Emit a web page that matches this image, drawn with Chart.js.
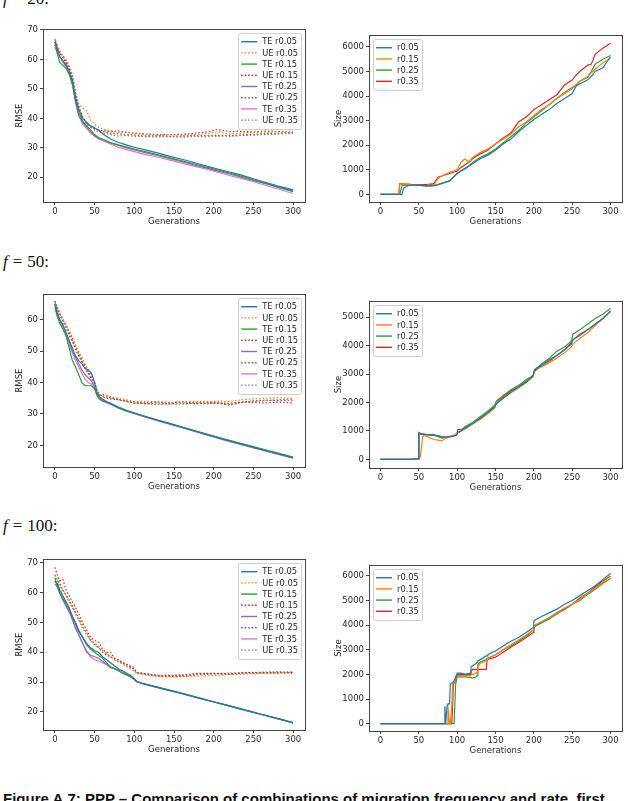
<!DOCTYPE html>
<html>
<head>
<meta charset="utf-8">
<script src="https://cdn.jsdelivr.net/npm/chart.js@4.4.0/dist/chart.umd.min.js"></script>
<style>
  body { margin: 0; width: 628px; height: 801px; overflow: hidden; background: #fff; position: relative; }
  canvas { position: absolute; }
  .lbl { position: absolute; left: 3px; font: 17px "Liberation Serif", serif; line-height: 17px; white-space: nowrap; color: #111; }
  .eq { margin: 0 5px; }
  .cap { position: absolute; left: 3px; top: 791px; font: 15px "Liberation Sans", Arial, sans-serif; line-height: 15px; white-space: nowrap; color: #111; }
</style>
</head>
<body>
<div class="lbl" style="top:-10px"><i>f</i><span class="eq">=</span>20:</div>
<div class="lbl" style="top:253px"><i>f</i><span class="eq">=</span>50:</div>
<div class="lbl" style="top:517px"><i>f</i><span class="eq">=</span>100:</div>
<canvas id="c1"></canvas>
<canvas id="c2"></canvas>
<canvas id="c3"></canvas>
<canvas id="c4"></canvas>
<canvas id="c5"></canvas>
<canvas id="c6"></canvas>
<div class="cap"><b>Figure A.7: PPP – Comparison of combinations of migration frequency and rate, first</b></div>
<script>
// ---- data ----
const xTicks = [0, 50, 100, 150, 200, 250, 300];
const rmseLabels = ["TE r0.05", "UE r0.05", "TE r0.15", "UE r0.15", "TE r0.25", "UE r0.25", "TE r0.35", "UE r0.35"];
const sizeLabels = ["r0.05", "r0.15", "r0.25", "r0.35"];

// f = 20, RMSE
const gen20 = [0,3,6,10,14,18,22,26,30,35,40,45,50,55,60,70,80,90,100,115,130,145,160,175,190,205,220,235,250,265,280,300];
const te20_05 = [66,63,61,59.5,58,56,53,47,43,40,38.5,37.5,36.8,36,34.8,33,31.8,31,30.2,29.2,28.2,27.1,26.1,25,23.9,22.8,21.8,20.7,19.5,18.3,17.1,15.7];
const ue20_05 = [64,65,63,61,60,58,55,49,45,43.5,42.5,39.5,38,37,36.3,35.8,35.2,35.5,34.8,34.5,34.2,34.6,34.3,34.5,34.8,35.4,34.7,35,35.3,35.1,35.5,35.2];
const te20_15 = [65,62,59,58,57,55,51.5,46,42,39,37.5,36,34.5,33.5,33,31.8,31,30.3,29.6,28.6,27.6,26.6,25.6,24.6,23.5,22.5,21.4,20.3,19.1,18,16.8,15.3];
const ue20_15 = [66,64,62,61.5,59,57,54,48,44,40.5,38.5,37.5,36.5,36,35.8,35.5,35.7,35.2,35,34.7,34.5,34.4,34.6,34.9,35.3,36.2,35.5,35.6,35.4,35.7,35.6,35.2];
const te20_25 = [67,64,61,59.5,58.5,56,52,46,41,38.5,37,35.5,34,33.2,32.8,31.6,30.8,30,29.3,28.3,27.3,26.3,25.3,24.2,23.2,22.1,21.1,20,18.9,17.8,16.6,15.1];
const ue20_25 = [65,63.5,62,60.5,59,57,54.5,48,43,40,38,37,36.5,35.8,35.5,35,34.8,34.5,34.3,34,34.1,33.9,34,34.2,34.1,34.3,34.1,34.4,34.6,34.8,35,35.3];
const te20_35 = [64,63,61,59,57.5,55.5,52,45,41,38,36.5,35,34,33,32.5,31.3,30.2,29.4,28.7,27.7,26.8,25.8,24.8,23.8,22.8,21.7,20.6,19.6,18.5,17.3,16.1,14.5];
const ue20_35 = [66,64.5,62.5,61,59.5,57.5,54,48.5,44,40,38.5,37,36,35.5,35,34.5,34,34.2,33.9,33.8,33.7,33.8,33.6,33.9,33.7,34,33.9,34.2,34.3,34.5,34.6,34.9];

// f = 50, RMSE
const gen50 = [0,3,6,10,14,18,22,26,30,34,38,42,46,50,53,56,60,65,70,80,90,100,115,130,145,160,175,190,205,220,235,250,265,280,300];
const te50_05 = [65,62,60,58.5,56,53.5,51,48.5,47,46,44.5,44,43,40,37,35.5,34.8,34,33.4,32.2,31.2,30.3,29.1,28,26.9,25.8,24.7,23.6,22.5,21.4,20.4,19.4,18.4,17.4,16.1];
const ue50_05 = [65,64,62,60,58,56.5,54.5,52,50,48,46,44,42,40,37.5,36,35.8,36,35.5,35,34.5,34,34,33.9,33.7,33.8,34,34,34.1,34,34.5,34.8,35,35.2,35];
const te50_15 = [64,61,59,57,55,51,47,45,42.5,40,39,39,39,38,36,35,34.3,33.8,33.3,32,31,30.3,29.1,28,26.9,25.8,24.7,23.7,22.6,21.6,20.6,19.6,18.6,17.6,16.3];
const ue50_15 = [65,63,61.5,59.5,57.5,55,53,50.5,48.5,46.5,44.5,43,41,39.5,37,36,36.2,35.8,35.2,34.6,34.2,33.8,33.5,33.8,33.5,33.9,33.6,33.8,33.5,33.4,33.8,33.6,33.5,33.8,33.5];
const te50_25 = [66,62.5,60,58,55.5,53,50,48,46,44,42.5,41.5,40.5,38.5,36.5,35,34.2,33.7,33.2,31.9,31,30.2,29,27.9,26.8,25.7,24.6,23.5,22.4,21.3,20.3,19.3,18.3,17.3,16];
const ue50_25 = [66,64,62,60,58.5,56,53.5,51,49,47,45,43.5,42,40,37.5,36.5,35.5,35,34.8,34.5,34,33.5,33.3,33.5,33.2,33.5,33.3,33.4,33.6,33,33.8,34.2,34.4,34.3,34.4];
const te50_35 = [65,62,60,58,55,52,49.5,47,45,43,41,40,39.5,38,36,34.7,34,33.6,33.1,31.8,30.9,30.1,28.9,27.8,26.7,25.6,24.5,23.4,22.3,21.2,20.2,19.2,18.2,17.2,15.9];
const ue50_35 = [65,64,62,60.5,58,56,54,51.5,49.5,47.5,45.5,43.5,41.5,40,37.5,36,35.7,35.4,35,34.6,34,33.4,33.2,33,33.2,33.1,33.4,33.2,33.4,32.8,33.6,34,34.2,34.5,34.8];

// f = 100, RMSE
const gen100 = [0,3,6,10,14,18,22,26,30,35,40,45,50,55,60,65,70,75,80,85,90,95,99,103,110,120,135,150,165,180,200,220,240,260,280,300];
const te100_05 = [64,63,61,59,57,55,52,49.5,47,45,43,41.5,40.5,40,38.5,37.5,36.5,35.5,34.5,33.8,33,32.3,31.5,30.2,29.6,28.9,27.9,26.9,25.9,24.8,23.4,22,20.6,19.2,17.8,16.4];
const ue100_05 = [66,64,63,61,59,57,55,53,51,48.5,46.5,44.5,43,42,41,39.5,38.5,37.5,36.8,36,35.2,34.5,33.8,33,32.5,32.2,31.8,31.7,31.9,32,32.2,32.5,32.7,33,33.1,33.3];
const te100_15 = [65,62,60,58,56.5,54.5,52,50,47.5,45,42.5,41,40,39,38,36.5,35,34.5,33.8,33,32.5,32,31.2,30.2,29.6,28.9,27.9,26.9,25.8,24.8,23.4,22,20.6,19.2,17.8,16.4];
const ue100_15 = [68.5,66,64,64.5,61,59,57,55,53,50,47.5,45,44,43.5,41,40,40,38,37.5,36.5,36,35,34.5,33.2,33,32.5,32,32.2,32.3,32.8,33,32.6,33.2,33,33.2,33];
const te100_25 = [63,62,60,57.5,55.5,53.5,51,48,46,43,40,39,38.5,38,37,36,35,34.5,34,33.2,32.5,31.8,31,30.1,29.5,28.8,27.8,26.8,25.8,24.7,23.3,21.9,20.5,19.1,17.7,16.3];
const ue100_25 = [66,64.5,63,61,59.5,57.5,55.5,53.5,51.5,49,46.5,44,43,41.5,40,39,38.5,37.5,37,36.5,35.5,35,34.5,33,32.8,32.3,32,31.8,32,32.5,32.7,32.8,33,33.2,33,33.2];
const te100_35 = [64,63,60.5,58,56,54,51,48.5,46,43,40.5,38.5,37.5,37,36.5,35.8,35,34.5,33.8,33.2,32.5,31.8,31,30.1,29.5,28.8,27.8,26.8,25.8,24.7,23.3,21.9,20.5,19.1,17.7,16.3];
const ue100_35 = [65,64,62,60.5,59,57,55,53,51,48,46,44,42.5,41.5,40.5,39.5,38.5,38,37,36.5,36,35.5,35,33.2,33,32.5,32.3,32.3,32.5,33,32.8,33,33.2,33.3,33.5,33.4];

// f = 20, Size
const gen20s = [0,10,20,24,25,28,30,35,40,50,60,65,70,75,80,90,100,105,110,115,120,130,140,150,160,170,180,190,200,210,220,230,240,250,255,260,270,275,280,290,300];
const sz20_05 = [0,0,0,0,0,0,250,350,380,380,350,350,360,400,450,550,850,950,1050,1150,1250,1450,1600,1800,2050,2250,2550,2800,3050,3250,3450,3700,3900,4100,4400,4500,4650,4800,5000,5150,5600];
const sz20_15 = [0,0,0,0,420,420,430,420,400,380,350,450,400,650,750,900,1000,1300,1450,1300,1500,1700,1850,2050,2250,2450,2750,2950,3200,3450,3650,3900,4100,4300,4450,4600,4800,4950,5100,5350,5550];
const sz20_25 = [0,0,0,0,0,350,380,380,380,370,350,350,360,400,450,550,850,950,1050,1150,1300,1500,1650,1850,2100,2350,2600,2900,3150,3400,3650,3900,4150,4350,4450,4600,4750,5000,5300,5500,5650];
const sz20_35 = [0,0,0,0,430,430,420,420,410,400,400,400,450,700,750,850,950,1100,1200,1300,1450,1650,1800,2050,2300,2500,2950,3150,3450,3650,3850,4050,4450,4650,4850,5000,5250,5300,5700,5950,6150];

// f = 50, Size
const gen50s = [0,10,20,30,40,49,50,52,55,57,60,65,70,75,80,85,90,95,99,101,105,110,120,130,140,149,151,160,170,180,190,199,201,210,220,230,240,249,251,260,270,280,290,300];
const sz50_05 = [0,0,0,0,0,20,900,900,880,880,870,860,850,840,800,780,800,820,850,950,1000,1100,1250,1450,1650,1850,1950,2150,2350,2550,2700,2950,3150,3300,3500,3650,3850,4050,4200,4350,4550,4750,4950,5200];
const sz50_15 = [0,0,0,0,0,20,50,100,800,850,820,750,700,680,650,750,780,850,900,950,1000,1050,1250,1400,1600,1800,2000,2150,2350,2500,2700,2900,3150,3250,3400,3550,3750,3950,4050,4250,4450,4700,4950,5200];
const sz50_25 = [0,0,0,0,0,20,850,900,900,880,860,850,840,800,750,770,800,830,860,950,1000,1150,1300,1500,1700,1900,2050,2250,2450,2600,2800,2950,3150,3350,3550,3800,3950,4150,4400,4550,4750,4950,5100,5300];
const sz50_35 = [0,0,0,0,0,20,950,920,900,890,880,870,860,830,780,790,800,830,860,1050,1050,1100,1250,1450,1650,1900,2000,2200,2400,2550,2750,2900,3100,3300,3450,3650,3850,4100,4200,4400,4550,4750,4950,5200];

// f = 100, Size
const gen100s = [0,20,40,60,80,83,84,85,87,88,90,91,93,94,95,96,97,98,100,105,110,117,118,120,125,126,127,130,138,139,140,150,160,170,180,190,199,200,201,210,220,230,240,250,260,270,280,290,300];
const sz100_05 = [0,0,0,0,0,0,700,0,750,800,800,1600,1650,1650,1700,1750,1750,1800,2050,2050,2000,2050,2300,2350,2450,2500,2550,2600,2750,2750,2800,2950,3150,3350,3500,3700,3900,4150,4200,4350,4500,4650,4850,5000,5200,5400,5600,5850,6100];
const sz100_15 = [0,0,0,0,0,0,0,0,0,700,0,0,700,1600,1650,1700,1750,1800,1950,1950,1950,1950,2000,2000,2050,2100,2300,2450,2550,2600,2650,2800,3000,3200,3400,3600,3800,3950,4000,4150,4300,4500,4700,4850,5050,5300,5500,5750,6000];
const sz100_25 = [0,0,0,0,0,0,0,0,0,0,0,0,0,0,0,0,0,1600,1900,1900,1900,1880,1870,1850,1900,1950,2400,2500,2600,2650,2650,2800,3000,3150,3350,3550,3800,3900,3950,4100,4250,4450,4650,4850,5000,5250,5450,5700,5900];
const sz100_35 = [0,0,0,0,0,0,0,0,0,0,0,0,0,700,1600,1650,1800,1900,2000,2000,2000,2000,2100,2200,2200,2200,2200,2200,2200,2600,2600,2700,2900,3100,3300,3500,3700,3900,3950,4100,4300,4500,4650,4850,5100,5300,5550,5800,6000];

const rmseTicks = [20, 30, 40, 50, 60, 70];
const rmseTicks50 = [20, 30, 40, 50, 60];
const sizeTicks = [0, 1000, 2000, 3000, 4000, 5000, 6000];
const sizeTicks50 = [0, 1000, 2000, 3000, 4000, 5000];

// ---- styling ----
const tab = ["#1f77b4", "#ff7f0e", "#2ca02c", "#d62728", "#9467bd", "#8c564b", "#e377c2", "#7f7f7f"];
const dotted = [1.5, 2];
const txt = "#2a2a2a";
const font = { family: "DejaVu Sans", size: 8.5 };

// box around the axes, like matplotlib spines
const framePlugin = {
    id: "frame",
    afterDatasetsDraw(chart) {
        const { ctx, chartArea: a } = chart;
        ctx.save();
        ctx.strokeStyle = "#444";
        ctx.lineWidth = 1;
        ctx.strokeRect(Math.round(a.left) + 0.5, Math.round(a.top) + 0.5, Math.round(a.right - a.left), Math.round(a.bottom - a.top));
        ctx.restore();
    }
};

// legend drawn inside the plot with a light rounded box
const boxLegend = {
    id: "boxLegend",
    afterDraw(chart, args, opts) {
        if (!opts || !opts.side) return;
        const { ctx, chartArea: a } = chart;
        const ds = chart.data.datasets;
        const pad = 3, handle = 16, gap = 5, rowH = 11.2;
        ctx.save();
        ctx.font = '8.3px "DejaVu Sans"';
        const textW = Math.max(...ds.map(d => ctx.measureText(d.label).width));
        const w = pad + handle + gap + textW + pad;
        const h = ds.length * rowH + 2 * pad;
        const x = opts.side === "right" ? a.right - 4 - w : a.left + 4;
        const y = a.top + 4;
        ctx.fillStyle = "rgba(255,255,255,0.8)";
        ctx.strokeStyle = "#d0d0d0";
        ctx.lineWidth = 1;
        ctx.beginPath();
        if (ctx.roundRect) ctx.roundRect(Math.round(x) + 0.5, Math.round(y) + 0.5, Math.round(w), Math.round(h), 2);
        else ctx.rect(Math.round(x) + 0.5, Math.round(y) + 0.5, Math.round(w), Math.round(h));
        ctx.fill();
        ctx.stroke();
        ds.forEach((d, i) => {
            const cy = y + pad + rowH * (i + 0.5);
            ctx.strokeStyle = d.borderColor;
            ctx.lineWidth = 1.4;
            ctx.setLineDash(d.borderDash || []);
            ctx.beginPath();
            ctx.moveTo(x + pad, cy);
            ctx.lineTo(x + pad + handle, cy);
            ctx.stroke();
            ctx.setLineDash([]);
            ctx.fillStyle = txt;
            ctx.textBaseline = "middle";
            ctx.fillText(d.label, x + pad + handle + gap, cy + 0.5);
        });
        ctx.restore();
    }
};
Chart.register(framePlugin, boxLegend);

function makeChart(id, frame, yW, gens, series, labels, colors, dashes, yMin, yMax, yTicks, yTitle, side) {
    const H = 28, padT = 6, padR = 6;
    const cv = document.getElementById(id);
    cv.width = frame.r - frame.l + yW + padR;
    cv.height = frame.b - frame.t + padT + H;
    cv.style.left = (frame.l - yW) + "px";
    cv.style.top = (frame.t - padT) + "px";

    const datasets = series.map((vals, i) => ({
        label: labels[i],
        data: vals.map((v, k) => ({ x: gens[k], y: v })),
        borderColor: colors[i],
        borderWidth: 1.2,
        borderDash: dashes[i],
        pointRadius: 0,
        tension: 0,
        fill: false
    }));

    const grid = { display: true, drawOnChartArea: false, drawTicks: true, tickLength: 3, color: "#444" };

    return new Chart(cv.getContext("2d"), {
        type: "line",
        data: { datasets: datasets },
        options: {
            responsive: false,
            animation: false,
            layout: { padding: { left: 0, right: padR, top: padT, bottom: 0 } },
            plugins: {
                legend: { display: false },
                tooltip: { enabled: false },
                boxLegend: { side: side }
            },
            scales: {
                x: {
                    type: "linear",
                    min: -15,
                    max: 315,
                    afterBuildTicks: s => { s.ticks = xTicks.map(v => ({ value: v })); },
                    afterFit: s => { s.height = H; },
                    grid: grid,
                    border: { display: false },
                    ticks: { font: font, color: txt, padding: 2, maxRotation: 0, autoSkip: false, callback: v => String(v) },
                    title: { display: true, text: "Generations", font: font, color: txt, padding: { top: 0, bottom: 3 } }
                },
                y: {
                    type: "linear",
                    min: yMin,
                    max: yMax,
                    afterBuildTicks: s => { s.ticks = yTicks.map(v => ({ value: v })); },
                    afterFit: s => { s.width = yW; },
                    grid: grid,
                    border: { display: false },
                    ticks: { font: font, color: txt, padding: 2, autoSkip: false, callback: v => String(v) },
                    title: { display: true, text: yTitle, font: font, color: txt, padding: { top: 15, bottom: 0 } }
                }
            }
        }
    });
}

const rmseColors = tab;
const rmseDashes = [[], dotted, [], dotted, [], dotted, [], dotted];
const sizeColors = tab.slice(0, 4);
const sizeDashes = [[], [], [], []];

makeChart("c1", { l: 43, t: 28, r: 305, b: 202 }, 43, gen20,
    [te20_05, ue20_05, te20_15, ue20_15, te20_25, ue20_25, te20_35, ue20_35],
    rmseLabels, rmseColors, rmseDashes, 11.6, 70.3, rmseTicks, "RMSE", "right");
makeChart("c2", { l: 369, t: 34, r: 622, b: 202 }, 50, gen20s,
    [sz20_05, sz20_15, sz20_25, sz20_35],
    sizeLabels, sizeColors, sizeDashes, -307, 6480, sizeTicks, "Size", "left");
makeChart("c3", { l: 43, t: 293, r: 305, b: 467 }, 43, gen50,
    [te50_05, ue50_05, te50_15, ue50_15, te50_25, ue50_25, te50_35, ue50_35],
    rmseLabels, rmseColors, rmseDashes, 13.1, 68.2, rmseTicks50, "RMSE", "right");
makeChart("c4", { l: 369, t: 300, r: 622, b: 468 }, 50, gen50s,
    [sz50_05, sz50_15, sz50_25, sz50_35],
    sizeLabels, sizeColors, sizeDashes, -300, 5560, sizeTicks50, "Size", "left");
makeChart("c5", { l: 43, t: 558, r: 305, b: 730 }, 43, gen100,
    [te100_05, ue100_05, te100_15, ue100_15, te100_25, ue100_25, te100_35, ue100_35],
    rmseLabels, rmseColors, rmseDashes, 13.9, 71.3, rmseTicks, "RMSE", "right");
makeChart("c6", { l: 369, t: 564, r: 622, b: 731 }, 50, gen100s,
    [sz100_05, sz100_15, sz100_25, sz100_35],
    sizeLabels, sizeColors, sizeDashes, -300, 6440, sizeTicks, "Size", "left");
</script>
</body>
</html>
